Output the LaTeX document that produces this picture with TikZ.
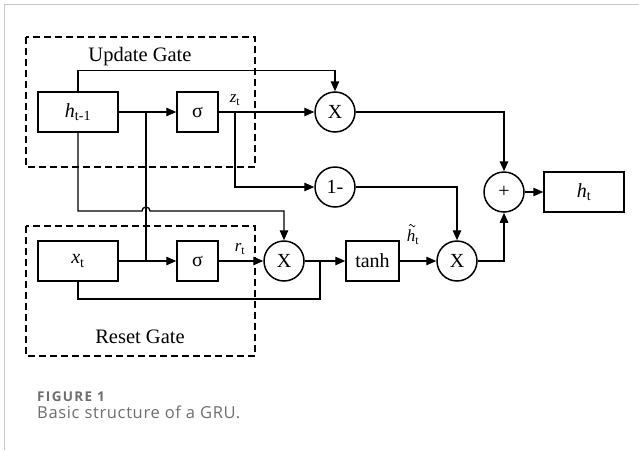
\documentclass[tikz,border=0pt]{standalone}
\usepackage{fontspec}
\setmainfont{Liberation Serif}
\newfontfamily\capfont{Open Sans}
\usetikzlibrary{arrows.meta}
\definecolor{capgray}{HTML}{6E6E6E}
\definecolor{framegray}{HTML}{C8C8C8}
\newcommand\tsub[1]{\textsubscript{\upshape #1}}
\begin{document}
\begin{tikzpicture}[x=1pt,y=-1pt,
  box/.style={draw, line width=1.5pt, minimum width=80pt, minimum height=40pt, inner sep=0pt, font=\fontsize{20}{20}\selectfont},
  sbox/.style={box, minimum width=41pt},
  op/.style={draw, circle, line width=1.5pt, minimum size=40pt, inner sep=0pt, font=\fontsize{20}{20}\selectfont},
  gate/.style={draw, dash pattern=on 7pt off 4pt, line width=1.3pt},
  lbl/.style={inner sep=0pt, font=\fontsize{17}{17}\selectfont},
  gtext/.style={inner sep=0pt, font=\fontsize{20.5}{20.5}\selectfont},
  conn/.style={line width=1.3pt},
  arr/.style={conn, -{Triangle[length=10pt,width=8.5pt]}},
  captxt/.style={anchor=base west, inner sep=0pt, text=capgray}
]
\useasboundingbox (0,0) rectangle (639,450);
\draw[framegray, line width=1pt] (4,450) -- (4,4) -- (639,4);

% gates
\draw[gate] (26,37) rectangle (255,167);
\node[gtext] (ug) at (140,57) {Update Gate};
\draw[gate] (26,226) rectangle (255,356);
\node[gtext] (rg) at (140,337) {Reset Gate};

% nodes
\node[box] (h1) at (78,112) {\textit{h}\tsub{t-1}};
\node[sbox] (s1) at (197.5,112) {σ};
\node[op] (m1) at (335,112) {X};
\node[op] (om) at (335,187) {1-};
\node[op] (pl) at (504,192) {+};
\node[box] (ht) at (584,192) {\textit{h}\tsub{t}};
\node[box] (xt) at (78,261) {\textit{x}\tsub{t}};
\node[sbox] (s2) at (197.5,261) {σ};
\node[op] (m2) at (284,261) {X};
\node[box, minimum width=53pt] (th) at (372.5,261) {tanh};
\node[op] (m3) at (457,261) {X};

% labels
\node[lbl] (zl) at (235,100) {\textit{z}\tsub{t}};
\node[lbl] (rl) at (240,249) {\textit{r}\tsub{t}};
\node[lbl] (hl) at (413,237) {\textit{h}\tsub{t}};
\draw[line width=0.7pt] ([shift={(2.5,-4)}]hl.north west) sin ++(1.5,-1.2) cos ++(1.5,1.2) sin ++(1.5,1.2) cos ++(1.5,-1.2);

% coordinates
\coordinate (j1) at (146,112);
\coordinate (j2) at (146,261);
\coordinate (zb) at (235,112);
\coordinate (xj) at (320,261);

% connectors
\draw[arr] (h1) -- (s1);
\draw[arr] (xt) -- (s2);
\draw[conn] (j2) -- (j1);
\draw[arr] (s1) -- (m1);
\draw[arr] (h1.north) -- ++(0,-21) -| (m1.north);
\draw[arr] (zb) |- (om);
\draw[arr] (m1) -| (pl);
\draw[arr] (om) -| (m3);
\draw[arr] (m3) -| (pl);
\draw[arr] (pl) -- (ht);
\draw[arr] (s2) -- (m2);
\draw[arr] (m2) -- (th);
\draw[arr] (th) -- (m3);
\draw[arr] (h1.south) |- (142,211) arc[start angle=180,end angle=0,radius=4pt] -| (m2.north);
\draw[conn] (xt.south) |- (320,299) -- (xj);

% caption
\node[captxt, font=\capfont\bfseries\fontsize{13.5}{13.5}\selectfont\addfontfeature{LetterSpace=10}] (cap1) at (37,401) {FIGURE 1};
\node[captxt, font=\capfont\fontsize{16.5}{16.5}\selectfont\addfontfeature{LetterSpace=4}] (cap2) at (37,418) {Basic structure of a GRU.};
\end{tikzpicture}
\end{document}
